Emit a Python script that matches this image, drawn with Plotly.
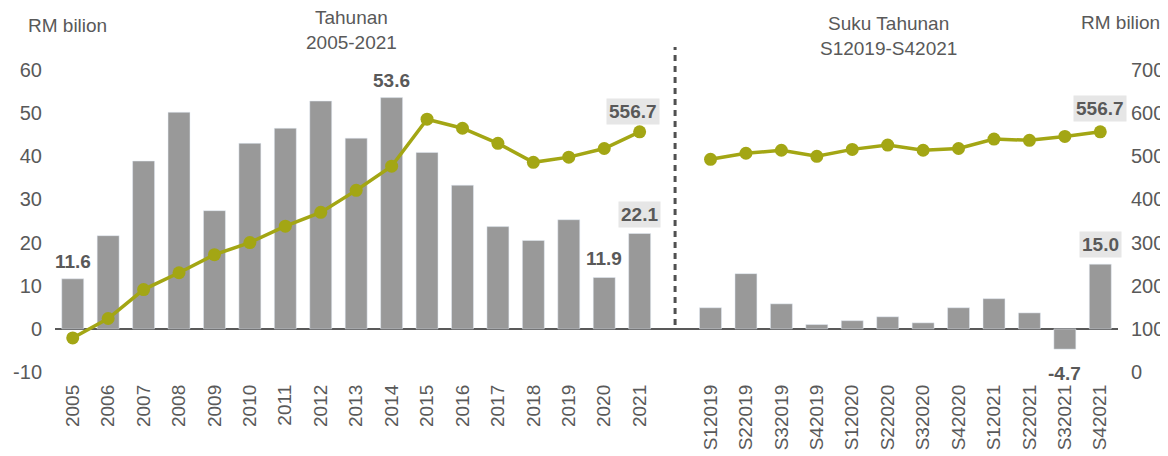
import plotly.graph_objects as go

years = [str(y) for y in range(2005, 2022)]
quarters = ["S12019", "S22019", "S32019", "S42019", "S12020", "S22020", "S32020", "S42020",
            "S12021", "S22021", "S32021", "S42021"]

annual_flow = [11.6, 21.6, 38.9, 50.2, 27.4, 43.0, 46.5, 52.8, 44.2, 53.6, 40.9, 33.3, 23.7, 20.5, 25.3, 11.9, 22.1]
annual_stock = [79, 124, 191, 230, 272, 300, 338, 370, 421, 477, 586, 565, 530, 486, 498, 518, 556.7]

quarter_flow = [4.9, 12.8, 5.8, 1.0, 1.9, 2.8, 1.4, 4.9, 7.0, 3.7, -4.7, 15.0]
quarter_stock = [493, 507, 514, 500, 516, 526, 514, 518, 540, 537, 546, 556.7]

left_ticks = [-10, 0, 10, 20, 30, 40, 50, 60]
right_ticks = [0, 100, 200, 300, 400, 500, 600, 700]

# positions: annual 0..16, blank gap at 17, quarters 18..29
ax = list(range(len(years)))
gap = len(years)
qx = [gap + 1 + i for i in range(len(quarters))]

BAR = "#999999"
LINE = "#A3A614"
TXT = "#595959"
FONT = "Liberation Sans, Arial, sans-serif"

fig = go.Figure()
fig.add_trace(go.Bar(x=ax, y=annual_flow, marker_color=BAR, width=0.62, yaxis="y"))
fig.add_trace(go.Bar(x=qx, y=quarter_flow, marker_color=BAR, width=0.62, yaxis="y"))
fig.add_trace(go.Scatter(x=ax, y=annual_stock, mode="lines+markers", yaxis="y2",
                         line=dict(color=LINE, width=3.5), marker=dict(color=LINE, size=13),
                         cliponaxis=False))
fig.add_trace(go.Scatter(x=qx, y=quarter_stock, mode="lines+markers", yaxis="y2",
                         line=dict(color=LINE, width=3.5), marker=dict(color=LINE, size=13),
                         cliponaxis=False))

ann = []
def lab(x, y, text, yref="y", yshift=18, xshift=0, bg=None):
    d = dict(x=x, y=y, xref="x", yref=yref, text="<b>%s</b>" % text, showarrow=False,
             yanchor="middle", xanchor="center", yshift=yshift, xshift=xshift,
             font=dict(family=FONT, size=19, color=TXT))
    if bg:
        d.update(bgcolor=bg, borderpad=2)
    ann.append(d)

lab(ax[0], annual_flow[0], "11.6", yshift=17)
lab(ax[9], annual_flow[9], "53.6", yshift=17)
lab(ax[15], annual_flow[15], "11.9", yshift=19)
lab(ax[16], annual_flow[16], "22.1", yshift=19, bg="#E6E6E6")
lab(ax[16], annual_stock[16], "556.7", yref="y2", yshift=20, xshift=-7, bg="#E6E6E6")
lab(qx[11], quarter_stock[11], "556.7", yref="y2", yshift=23, bg="#E6E6E6")
lab(qx[11], quarter_flow[11], "15.0", yshift=20, bg="#E6E6E6")
lab(qx[10], quarter_flow[10], "-4.7", yshift=-24)

def title(x, y, text):
    ann.append(dict(x=x, y=y, xref="paper", yref="paper", text=text, showarrow=False,
                    xanchor="center", yanchor="middle",
                    font=dict(family=FONT, size=19, color=TXT)))

title(0.0118, 1.149, "RM bilion")
title(1.002, 1.156, "RM bilion")
title(0.279, 1.134, "Tahunan<br>2005-2021")
title(0.784, 1.111, "Suku Tahunan<br>S12019-S42021")

# page body has an 8px margin, so the figure is drawn 8px smaller and offset
fig.update_layout(
    width=1160, height=448,
    margin=dict(l=47, r=50, t=62, b=84),
    paper_bgcolor="white", plot_bgcolor="white",
    showlegend=False, bargap=0.38,
    font=dict(family=FONT, size=18, color=TXT),
    annotations=ann,
    shapes=[dict(type="line", xref="x", yref="paper", x0=gap, x1=gap, y0=0.156, y1=1.076,
                 line=dict(color="#505050", width=3, dash="6px,5px"))],
    xaxis=dict(range=[-0.5, qx[-1] + 0.5], tickmode="array", tickvals=ax + qx,
               ticktext=years + quarters, tickangle=-90, showgrid=False, showline=False,
               ticks="", tickfont=dict(family=FONT, size=19, color=TXT), ticklabelstandoff=8,
               automargin=False),
    yaxis=dict(range=[-10, 60], tickmode="array", tickvals=left_ticks,
               ticktext=[str(v) for v in left_ticks], showgrid=False, zeroline=True,
               zerolinecolor=TXT, zerolinewidth=1.5, showline=False, ticks="",
               tickfont=dict(family=FONT, size=20, color=TXT), ticklabelstandoff=12,
               automargin=False),
    yaxis2=dict(range=[0, 700], tickmode="array", tickvals=right_ticks,
                ticktext=[str(v) for v in right_ticks], overlaying="y", side="right",
                showgrid=False, zeroline=False, showline=False, ticks="",
                tickfont=dict(family=FONT, size=20, color=TXT), ticklabelstandoff=12,
                automargin=False),
)

fig.write_html("out.html")
